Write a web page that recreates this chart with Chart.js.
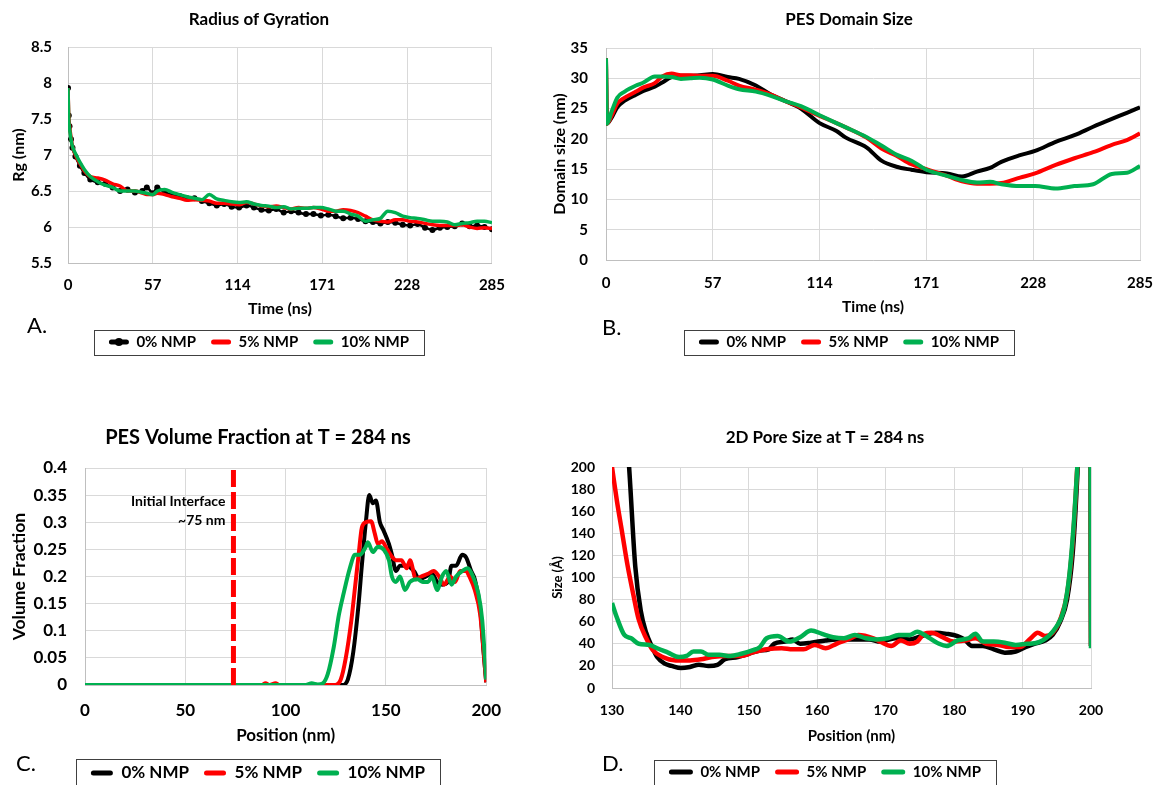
<!DOCTYPE html>
<html>
<head>
<meta charset="utf-8">
<title>NMP simulation panels</title>
<script src="https://cdn.jsdelivr.net/npm/chart.js@4.4.1/dist/chart.umd.min.js"></script>
<style>
  body { margin: 0; background: #fff; overflow: hidden; width: 1170px; height: 785px; position: relative; }
  canvas { position: absolute; }
  .panel { position: absolute; font-family: Lato, sans-serif; font-size: 22px; line-height: 22px; color: #000; }
</style>
</head>
<body>
<canvas id="chartA" width="518" height="392" style="left:0px;top:0px"></canvas>
<canvas id="chartB" width="642" height="392" style="left:528px;top:0px"></canvas>
<canvas id="chartC" width="516" height="410" style="left:0px;top:392px"></canvas>
<canvas id="chartD" width="590" height="410" style="left:530px;top:392px"></canvas>
<div class="panel" style="left:27px;top:314px">A.</div>
<div class="panel" style="left:602px;top:316px">B.</div>
<div class="panel" style="left:16px;top:752px">C.</div>
<div class="panel" style="left:602px;top:752px">D.</div>
<script>
// values (0%, 5%, 10% NMP)
const seriesNames = ['0% NMP', '5% NMP', '10% NMP'];
const seriesColors = ['#000000', '#ff0000', '#00b050'];

// A. radius of gyration
const rgTime = [0, 0.5, 1, 2, 3, 5, 8, 11, 15, 20, 25, 30, 35, 40, 45, 50, 53, 57, 60, 65,
  70, 75, 80, 85, 90, 95, 100, 105, 110, 115, 120, 125, 130, 135, 140, 145, 150, 155, 160, 165,
  170, 175, 180, 185, 190, 195, 200, 205, 210, 215, 220, 225, 230, 235, 240, 245, 250, 255, 260, 265,
  270, 275, 280, 285];
const rg0 = [7.93, 7.55, 7.4, 7.22, 7.1, 6.98, 6.85, 6.75, 6.66, 6.62, 6.6, 6.55, 6.5, 6.52, 6.48, 6.5, 6.55, 6.47, 6.55, 6.48,
  6.45, 6.43, 6.4, 6.4, 6.36, 6.33, 6.3, 6.32, 6.28, 6.27, 6.3, 6.27, 6.24, 6.23, 6.25, 6.2, 6.22, 6.2, 6.18, 6.18,
  6.16, 6.17, 6.15, 6.12, 6.13, 6.11, 6.08, 6.07, 6.05, 6.07, 6.06, 6.03, 6.02, 6.04, 5.99, 5.96, 5.99, 6.0, 6.01, 6.05,
  6.01, 6.02, 6.0, 5.97];
const rg5 = [7.93, 7.55, 7.42, 7.25, 7.12, 7.0, 6.88, 6.78, 6.7, 6.68, 6.65, 6.6, 6.57, 6.5, 6.5, 6.47, 6.45, 6.45, 6.47, 6.45,
  6.42, 6.4, 6.37, 6.38, 6.37, 6.36, 6.33, 6.33, 6.32, 6.31, 6.34, 6.32, 6.29, 6.28, 6.29, 6.27, 6.25, 6.27, 6.26, 6.27,
  6.25, 6.22, 6.22, 6.24, 6.23, 6.2, 6.15, 6.1, 6.08, 6.07, 6.1, 6.1, 6.08, 6.07, 6.05, 6.03, 6.02, 6.02, 6.02, 6.03,
  6.0, 5.98, 5.99, 5.98];
const rg10 = [7.93, 7.5, 7.38, 7.22, 7.12, 7.02, 6.9, 6.8, 6.7, 6.63, 6.58, 6.55, 6.5, 6.5, 6.5, 6.48, 6.47, 6.45, 6.5, 6.52,
  6.48, 6.45, 6.42, 6.4, 6.38, 6.45, 6.39, 6.37, 6.35, 6.34, 6.35, 6.32, 6.3, 6.29, 6.27, 6.28, 6.25, 6.26, 6.26, 6.27,
  6.27, 6.25, 6.22, 6.22, 6.18, 6.15, 6.08, 6.1, 6.12, 6.22, 6.2, 6.15, 6.13, 6.12, 6.1, 6.08, 6.08, 6.07, 6.03, 6.05,
  6.06, 6.08, 6.08, 6.06];
const timeTicks = [0, 57, 114, 171, 228, 285];
const rgTicks = [5.5, 6, 6.5, 7, 7.5, 8, 8.5];

// B. PES domain size
const domTime = [0, 0.5, 3, 6, 10, 16, 20, 26, 30, 35, 40, 45, 50, 57, 65, 71, 80, 88, 96, 104,
  114, 123, 128, 139, 147, 155, 163, 171, 182, 190, 198, 205, 211, 221, 229, 240, 250, 260, 270, 278, 285];
const dom0 = [33.3, 22.5, 23.5, 25.2, 26.3, 27.3, 27.9, 28.6, 29.3, 30.2, 30.4, 30.4, 30.5, 30.7, 30.2, 29.9, 28.8, 27.3, 26.2, 25.0,
  22.6, 21.3, 20.2, 18.6, 16.4, 15.4, 14.9, 14.5, 14.3, 13.8, 14.6, 15.2, 16.2, 17.3, 18.0, 19.5, 20.6, 22.0, 23.3, 24.3, 25.2];
const dom5 = [33.3, 22.5, 23.8, 25.8, 26.8, 27.8, 28.5, 29.2, 30.3, 30.8, 30.5, 30.5, 30.4, 30.4, 29.6, 28.8, 28.1, 27.3, 26.2, 25.2,
  23.8, 22.6, 21.9, 20.2, 18.4, 17.2, 15.8, 15.0, 13.9, 13.0, 12.6, 12.6, 12.7, 13.6, 14.3, 15.7, 16.8, 17.8, 19.0, 19.8, 20.9];
const dom10 = [33.3, 22.5, 24.5, 26.8, 27.8, 28.8, 29.3, 30.3, 30.3, 30.2, 29.9, 30.0, 30.1, 29.8, 28.8, 28.2, 27.8, 27.1, 26.2, 25.4,
  23.9, 22.6, 21.9, 20.3, 18.9, 17.4, 16.4, 14.9, 13.9, 13.2, 12.8, 12.9, 12.5, 12.2, 12.2, 11.8, 12.2, 12.5, 14.2, 14.4, 15.5];
const domTicks = [0, 5, 10, 15, 20, 25, 30, 35];

// C. PES volume fraction at T = 284 ns
const volPos0 = [0, 60, 128.3, 131, 133.7, 136.4, 138, 140, 141.7, 143.5, 145, 147, 148.8, 151.5, 153, 155, 157, 160.4, 164, 166.7,
  170, 173, 175.5, 178, 181, 182.7, 185, 188, 190, 192.5, 194.3, 197, 198.7, 200];
const vol0 = [0, 0, 0, 0.01, 0.06, 0.15, 0.22, 0.3, 0.35, 0.335, 0.34, 0.3, 0.285, 0.26, 0.24, 0.21, 0.22, 0.22, 0.21, 0.195,
  0.2, 0.205, 0.19, 0.185, 0.19, 0.22, 0.22, 0.24, 0.235, 0.21, 0.195, 0.14, 0.06, 0.005];
const volPos5 = [0, 88, 90, 92, 95, 97, 124.8, 127.5, 130, 132.8, 134.6, 136.4, 138, 140, 142.6, 144.4, 146, 148, 150.6, 153.3,
  155, 157.7, 160.4, 162, 165, 167.6, 171, 173.8, 176.5, 179, 182, 184.5, 187, 190, 191.6, 194.3, 197, 200];
const vol5 = [0, 0, 0.003, 0, 0.003, 0, 0, 0.01, 0.05, 0.12, 0.18, 0.24, 0.29, 0.3, 0.302, 0.28, 0.26, 0.265, 0.25, 0.235,
  0.23, 0.23, 0.215, 0.23, 0.195, 0.2, 0.205, 0.21, 0.2, 0.185, 0.2, 0.19, 0.21, 0.21, 0.2, 0.175, 0.13, 0.005];
const volPos10 = [0, 110, 113, 116, 118.5, 121, 124, 126.6, 129, 132, 134.6, 137, 140, 141, 143.5, 146, 148.8, 151.5, 153, 155,
  157, 159.5, 162, 165.8, 168.4, 171, 173, 175.5, 178, 180, 182.7, 185, 188, 190.7, 193.4, 196, 198, 200];
const vol10 = [0, 0, 0.003, 0.001, 0.003, 0.02, 0.07, 0.13, 0.17, 0.215, 0.24, 0.24, 0.255, 0.263, 0.245, 0.255, 0.25, 0.23, 0.2, 0.19,
  0.2, 0.175, 0.19, 0.195, 0.19, 0.19, 0.2, 0.175, 0.2, 0.21, 0.185, 0.2, 0.21, 0.215, 0.2, 0.17, 0.12, 0.01];
const interfacePos = [74, 74];
const interfaceFrac = [0, 0.4];
const noteLines = ['Initial Interface', '~75 nm'];
const noteLevels = [0.338, 0.303];
const posTicksC = [0, 50, 100, 150, 200];
const volTicks = [0, 0.05, 0.1, 0.15, 0.2, 0.25, 0.3, 0.35, 0.4];

// D. 2D pore size at T = 284 ns
const porePos0 = [132.2, 132.5, 133.4, 134.2, 135.0, 135.8, 136.6, 137.7, 138.7, 140.1, 141.4, 142.7, 144.1, 145.4, 146.5, 148.4, 150.0, 151.6, 152.9, 153.7,
  155.3, 156.4, 157.5, 159.1, 161.2, 162.8, 165.5, 167.6, 169.2, 171.4, 173.5, 175.7, 177.3, 178.9, 180.5, 181.5, 182.6, 184.2, 185.8, 187.4,
  189.0, 190.4, 191.7, 193.3, 194.4, 195.5, 196.5, 197.3, 197.9, 198.1, 199.6, 200];
const pore0 = [225, 200, 110, 70, 50, 38, 28, 22, 20, 18, 19, 21, 20, 21, 26, 28, 31, 34, 35, 40,
  42, 44, 40, 41, 43, 44, 44, 44, 42, 45, 44, 48, 50, 49, 47, 44, 38, 38, 35, 32,
  33, 37, 40, 43, 48, 60, 80, 120, 180, 210, 800, 38];
const porePos5 = [130, 130.7, 131.5, 132.3, 133.1, 133.9, 135.0, 136.0, 137.4, 139.3, 141.4, 143.0, 144.6, 146.8, 148.9, 150.5, 152.6, 154.8, 156.4, 158.0,
  159.6, 161.2, 162.8, 164.9, 166.0, 168.2, 169.2, 170.8, 172.2, 173.5, 174.6, 175.6, 176.7, 178.3, 179.9, 181.5, 183.1, 184.7, 186.4, 188.0,
  189.6, 191.2, 192.2, 193.3, 194.4, 195.5, 196.5, 197.3, 197.9, 198.2, 199.6, 200];
const pore5 = [200, 170, 140, 110, 85, 62, 45, 34, 28, 25, 25, 26, 28, 29, 29, 32, 35, 36, 35, 35,
  39, 36, 40, 45, 48, 45, 42, 38, 43, 40, 42, 49, 50, 46, 42, 43, 45, 40, 39, 37,
  37, 45, 50, 47, 50, 62, 85, 130, 190, 230, 800, 38];
const porePos10 = [130, 130.7, 131.8, 132.8, 133.9, 135.5, 136.6, 138.2, 139.8, 140.9, 141.9, 143.0, 144.1, 145.7, 147.3, 148.9, 150.5, 151.6, 152.6, 154.2,
  155.9, 157.5, 159.1, 160.7, 162.3, 163.9, 165.5, 167.1, 168.7, 170.3, 171.9, 173.5, 174.6, 176.2, 177.8, 178.9, 180.5, 182.1, 183.1, 184.2,
  185.8, 187.4, 189.0, 190.6, 192.2, 193.8, 194.9, 196.0, 196.8, 197.5, 198.0, 198.4, 199.6, 200];
const pore10 = [77, 64, 48, 45, 40, 39, 36, 32, 28, 29, 33, 33, 30, 30, 29, 31, 34, 37, 45, 47,
  42, 46, 52, 49, 46, 45, 48, 45, 44, 45, 48, 48, 51, 46, 40, 38, 43, 45, 49, 42,
  42, 41, 39, 40, 41, 47, 55, 70, 100, 150, 200, 240, 800, 36];
const posTicksD = [130, 140, 150, 160, 170, 180, 190, 200];
const poreTicks = [0, 20, 40, 60, 80, 100, 120, 140, 160, 180, 200];

Chart.defaults.font.family = "Lato, 'DejaVu Sans', sans-serif";
Chart.defaults.color = '#000';

function zip(xs, ys)
{
    return xs.map((x, i) => ({x: x, y: ys[i]}));
}

// one series; datasets are listed green first so green is painted on top
function series(i, xs, ys, width, extra)
{
    return Object.assign({
        label: seriesNames[i],
        data: zip(xs, ys),
        borderColor: seriesColors[i],
        backgroundColor: seriesColors[i],
        borderWidth: width,
        pointRadius: 0,
        cubicInterpolationMode: 'monotone'
    }, extra || {});
}

// draws the frame round the legend (and the marker dot for panel A)
const legendFrame = {
    id: 'legendFrame',
    afterDraw(chart, args, opts) {
        const boxes = chart.legend.legendHitBoxes;
        if (!boxes || !boxes.length) return;
        const first = boxes[0];
        const last = boxes[boxes.length - 1];
        const cy = first.top + first.height / 2;
        const ctx = chart.ctx;
        ctx.save();
        ctx.strokeStyle = '#404040';
        ctx.lineWidth = 1;
        const left = Math.round(first.left - opts.padX) + 0.5;
        const right = Math.round(last.left + last.width + opts.padX) + 0.5;
        const top = Math.round(cy - opts.halfH) + 0.5;
        ctx.strokeRect(left, top, right - left, Math.round(opts.halfH * 2));
        if (opts.dot) {
            ctx.fillStyle = seriesColors[0];
            ctx.beginPath();
            ctx.arc(first.left + opts.boxW / 2, cy, 4, 0, Math.PI * 2);
            ctx.fill();
        }
        ctx.restore();
    }
};

// the "Initial Interface" note beside the dashed line in panel C
const interfaceNote = {
    id: 'interfaceNote',
    afterDatasetsDraw(chart, args, opts) {
        const ctx = chart.ctx;
        const x = chart.scales.x.getPixelForValue(opts.at) - opts.gap;
        ctx.save();
        ctx.font = 'bold 14px Lato';
        ctx.fillStyle = '#000';
        ctx.textAlign = 'right';
        ctx.textBaseline = 'middle';
        opts.lines.forEach((t, i) => ctx.fillText(t, x, chart.scales.y.getPixelForValue(opts.levels[i])));
        ctx.restore();
    }
};

function drawPanel(canvasId, p)
{
    const ctx = document.getElementById(canvasId).getContext('2d');
    return new Chart(ctx, {
        type: 'line',
        data: { datasets: p.datasets },
        options: {
            responsive: false,
            animation: false,
            events: [],
            layout: { padding: { bottom: p.padBottom } },
            plugins: {
                title: {
                    display: true,
                    text: p.title,
                    color: '#000',
                    font: { size: p.titleSize, weight: 'bold' },
                    padding: { top: p.titleTop, bottom: p.titleBottom }
                },
                legend: {
                    position: 'bottom',
                    reverse: true,
                    labels: {
                        boxWidth: p.boxW,
                        boxHeight: 5,
                        padding: 15,
                        useBorderRadius: true,
                        borderRadius: 2.5,
                        color: '#000',
                        font: { size: p.legendSize, weight: 'bold' },
                        filter: item => !!item.text,
                        generateLabels: chart => Chart.defaults.plugins.legend.labels.generateLabels(chart)
                            .map(item => Object.assign(item, { lineWidth: 0, fillStyle: item.strokeStyle }))
                    }
                },
                tooltip: { enabled: false },
                legendFrame: { padX: 15, halfH: p.frameHalf, dot: !!p.legendDot, boxW: p.boxW },
                interfaceNote: p.note || false
            },
            scales: {
                x: {
                    type: 'linear',
                    min: p.xTicks[0],
                    max: p.xTicks[p.xTicks.length - 1],
                    afterBuildTicks: s => { s.ticks = p.xTicks.map(v => ({ value: v })); },
                    afterFit: s => { s.height = p.xHeight; },
                    ticks: {
                        autoSkip: false, maxRotation: 0, padding: p.xTickPad, color: '#000',
                        font: { size: p.tickSize, weight: 'bold' },
                        callback: v => String(v)
                    },
                    grid: { color: '#d9d9d9', drawTicks: false },
                    border: { color: '#bfbfbf' },
                    title: {
                        display: true, text: p.xTitle, color: '#000',
                        font: { size: p.xTitleSize, weight: 'bold' },
                        padding: { top: 0, bottom: p.xTitlePad }
                    }
                },
                y: {
                    type: 'linear',
                    position: 'left',
                    min: p.yTicks[0],
                    max: p.yTicks[p.yTicks.length - 1],
                    afterBuildTicks: s => { s.ticks = p.yTicks.map(v => ({ value: v })); },
                    afterFit: s => { s.width = p.yWidth; },
                    ticks: {
                        autoSkip: false, padding: p.yTickPad, color: '#000',
                        font: { size: p.tickSize, weight: 'bold' },
                        callback: v => String(v)
                    },
                    grid: { color: '#d9d9d9', drawTicks: false },
                    border: { color: '#bfbfbf' },
                    title: {
                        display: true, text: p.yTitle, color: '#000',
                        font: { size: p.yTitleSize, weight: 'bold' },
                        padding: { top: p.yTitleTop, bottom: 0 }
                    }
                },
                // empty margin on the right, like the Excel chart area
                pad: {
                    type: 'linear',
                    position: 'right',
                    grid: { display: false },
                    border: { display: false },
                    ticks: { display: false },
                    afterFit: s => { s.width = p.padRight; }
                }
            }
        },
        plugins: [legendFrame, interfaceNote]
    });
}

function drawAll()
{
    drawPanel('chartA', {
        title: 'Radius of Gyration', titleSize: 17, titleTop: 9.8, titleBottom: 16.8,
        xTitle: 'Time (ns)', xTitleSize: 16, xTitlePad: 0.9, xHeight: 56.5, xTickPad: 13, xTicks: timeTicks,
        yTitle: 'Rg (nm)', yTitleSize: 16, yTitleTop: 9.4, yWidth: 68, yTickPad: 16, yTicks: rgTicks,
        tickSize: 15, padRight: 18, legendSize: 15, padBottom: 32.5, frameHalf: 12.5, boxW: 20, legendDot: true,
        datasets: [
            series(2, rgTime, rg10, 3.5),
            series(1, rgTime, rg5, 3.5),
            series(0, rgTime, rg0, 2.5, { pointRadius: 3, pointBackgroundColor: '#000', pointBorderWidth: 0 })
        ]
    });

    drawPanel('chartB', {
        title: 'PES Domain Size', titleSize: 17, titleTop: 9.8, titleBottom: 17.8,
        xTitle: 'Time (ns)', xTitleSize: 15.5, xTitlePad: 3.2, xHeight: 59.5, xTickPad: 14, xTicks: timeTicks,
        yTitle: 'Domain size (nm)', yTitleSize: 16, yTitleTop: 22.4, yWidth: 78, yTickPad: 18, yTicks: domTicks,
        tickSize: 15, padRight: 30, legendSize: 15, padBottom: 32.5, frameHalf: 12.5, boxW: 20,
        datasets: [
            series(2, domTime, dom10, 4),
            series(1, domTime, dom5, 4),
            series(0, domTime, dom0, 4)
        ]
    });

    drawPanel('chartC', {
        title: 'PES Volume Fraction at T = 284 ns', titleSize: 20, titleTop: 34, titleBottom: 18,
        xTitle: 'Position (nm)', xTitleSize: 17, xTitlePad: 3.3, xHeight: 64.5, xTickPad: 15, xTicks: posTicksC,
        yTitle: 'Volume Fraction', yTitleSize: 17.5, yTitleTop: 8.5, yWidth: 85, yTickPad: 18, yTicks: volTicks,
        tickSize: 17, padRight: 20, legendSize: 17, padBottom: 10.5, frameHalf: 14, boxW: 22,
        note: { at: interfacePos[0], gap: 8, lines: noteLines, levels: noteLevels },
        datasets: [
            {
                label: '',
                data: zip(interfacePos, interfaceFrac),
                borderColor: '#ff0000',
                borderWidth: 5,
                borderDash: [17, 5],
                pointRadius: 0
            },
            series(2, volPos10, vol10, 4),
            series(1, volPos5, vol5, 4),
            series(0, volPos0, vol0, 4)
        ]
    });

    drawPanel('chartD', {
        title: '2D Pore Size at T = 284 ns', titleSize: 17, titleTop: 35.8, titleBottom: 18.8,
        xTitle: 'Position (nm)', xTitleSize: 15, xTitlePad: 4.5, xHeight: 61.5, xTickPad: 14, xTicks: posTicksD,
        yTitle: 'Size (Å)', yTitleSize: 13, yTitleTop: 20.2, yWidth: 82, yTickPad: 17, yTicks: poreTicks,
        tickSize: 14, padRight: 29, legendSize: 15, padBottom: 12.5, frameHalf: 12.5, boxW: 24,
        datasets: [
            series(2, porePos10, pore10, 4.5),
            series(1, porePos5, pore5, 4.5),
            series(0, porePos0, pore0, 4.5)
        ]
    });
}

Promise.all([
    document.fonts.load('bold 15px Lato'),
    document.fonts.load('22px Lato')
]).then(drawAll, drawAll);
</script>
</body>
</html>
